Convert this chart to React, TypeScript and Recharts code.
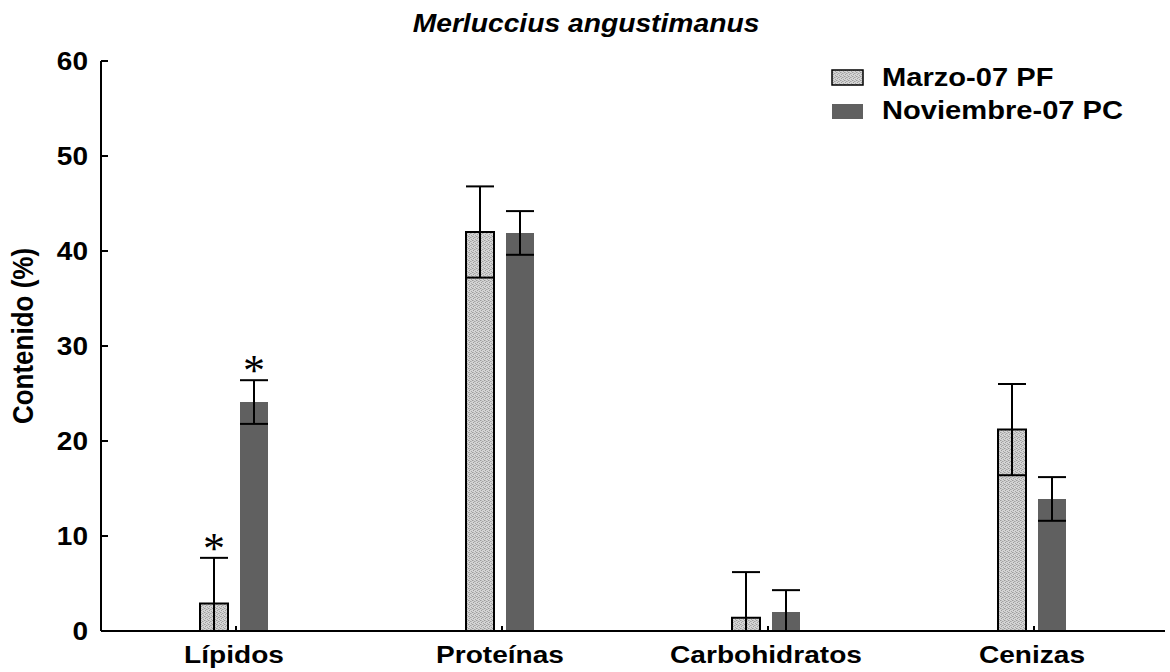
import { BarChart, Bar, XAxis, YAxis, ErrorBar, LabelList } from 'recharts';

// Chart values
const categories = ['Lípidos', 'Proteínas', 'Carbohidratos', 'Cenizas'];
const marzoValues = [2.9, 42.0, 1.4, 21.2];
const noviembreValues = [24.1, 41.9, 2.0, 13.9];
const marzoSd = [4.8, 4.8, 4.8, 4.8];
const noviembreSd = [2.3, 2.3, 2.3, 2.3];
const marzoSignif = [true, false, false, false];
const noviembreSignif = [true, false, false, false];
const yTicks = [0, 10, 20, 30, 40, 50, 60];
const seriesNames = ['Marzo-07 PF', 'Noviembre-07 PC'];

// lower whisker stops at the axis
const data = categories.map((name, i) => ({
  name,
  marzo: marzoValues[i],
  noviembre: noviembreValues[i],
  marzoErr: [Math.min(marzoSd[i], marzoValues[i]), marzoSd[i]],
  novErr: [Math.min(noviembreSd[i], noviembreValues[i]), noviembreSd[i]],
}));

const FONT = '"Liberation Sans", Arial, sans-serif';
const STRETCH = 1.12;
const NOV_FILL = '#606060';

function YTick({ x, y, payload }: any) {
  const axisX = x + 13;
  return (
    <g>
      {payload.value !== 0 && (
        <line x1={axisX} x2={axisX + 7} y1={y} y2={y} stroke="#000" strokeWidth={2} />
      )}
      <g transform={`translate(${x},${y}) scale(${STRETCH},1)`}>
        <text x={0} y={9} textAnchor="end" fontFamily={FONT} fontWeight="bold" fontSize={25} fill="#000">
          {payload.value}
        </text>
      </g>
    </g>
  );
}

function XTick({ x, y, payload }: any) {
  return (
    <g>
      <line x1={x + 2} x2={x + 2} y1={y} y2={y - 5} stroke="#000" strokeWidth={2} />
      <g transform={`translate(${x},${y + 32}) scale(${STRETCH + 0.05},1)`}>
        <text x={0} y={0} textAnchor="middle" fontFamily={FONT} fontWeight="bold" fontSize={24} fill="#000">
          {payload.value}
        </text>
      </g>
    </g>
  );
}

function makeStar(sd: number[], signif: boolean[]) {
  return (props: any) => {
    const { x, y, width, height, value, index } = props;
    if (!signif[index] || !value) return null;
    const capY = y - (sd[index] * height) / value;
    return (
      <text
        x={x + width / 2}
        y={capY + 5}
        textAnchor="middle"
        fontFamily='"Liberation Serif", "Times New Roman", serif'
        fontSize={44}
        fill="#000"
      >
        *
      </text>
    );
  };
}

export default function App() {
  return (
    <div style={{ position: 'absolute', left: 0, top: 0, width: 1170, height: 672, background: '#fff' }}>
      <BarChart
        width={1170}
        height={672}
        data={data}
        margin={{ top: 61, right: 5, bottom: 0, left: 0 }}
        barSize={28}
        barGap={12}
      >
        <XAxis
          dataKey="name"
          height={41}
          interval={0}
          axisLine={{ stroke: '#000', strokeWidth: 2 }}
          tickLine={false}
          tickSize={0}
          tickMargin={0}
          tick={<XTick />}
        />
        <YAxis
          width={101}
          domain={[0, 60]}
          ticks={yTicks}
          interval={0}
          axisLine={{ stroke: '#000', strokeWidth: 2 }}
          tickLine={false}
          tickSize={0}
          tickMargin={13}
          tick={<YTick />}
        />
        <Bar dataKey="marzo" name={seriesNames[0]} fill="url(#stippleFill)" stroke="#000" strokeWidth={2} isAnimationActive={false}>
          <ErrorBar dataKey="marzoErr" direction="y" width={14} stroke="#000" strokeWidth={2} isAnimationActive={false} />
          <LabelList dataKey="marzo" content={makeStar(marzoSd, marzoSignif)} />
        </Bar>
        <Bar dataKey="noviembre" name={seriesNames[1]} fill={NOV_FILL} isAnimationActive={false}>
          <ErrorBar dataKey="novErr" direction="y" width={14} stroke="#000" strokeWidth={2} isAnimationActive={false} />
          <LabelList dataKey="noviembre" content={makeStar(noviembreSd, noviembreSignif)} />
        </Bar>
      </BarChart>

      {/* title, axis label and legend */}
      <svg
        width={1170}
        height={672}
        style={{ position: 'absolute', left: 0, top: 0, pointerEvents: 'none' }}
      >
        <defs>
          <pattern id="stippleFill" width={4} height={4} patternUnits="userSpaceOnUse">
            <rect width={4} height={4} fill="#d4d4d4" />
            <rect x={0} y={0} width={1} height={1} fill="#9c9c9c" />
            <rect x={2} y={1} width={1} height={1} fill="#a4a4a4" />
            <rect x={1} y={2} width={1} height={1} fill="#9c9c9c" />
            <rect x={3} y={3} width={1} height={1} fill="#a4a4a4" />
            <rect x={3} y={1} width={1} height={1} fill="#b8b8b8" />
            <rect x={1} y={0} width={1} height={1} fill="#b8b8b8" />
          </pattern>
        </defs>
        <g transform={`translate(586,32) scale(${STRETCH + 0.01},1)`}>
          <text textAnchor="middle" fontFamily={FONT} fontWeight="bold" fontStyle="italic" fontSize={25} fill="#000">
            Merluccius angustimanus
          </text>
        </g>
        <g transform={`translate(33,336) rotate(-90) scale(1,${STRETCH})`}>
          <text textAnchor="middle" fontFamily={FONT} fontWeight="bold" fontSize={26} fill="#000">
            Contenido (%)
          </text>
        </g>
        <rect x={832} y={70} width={31} height={15} fill="url(#stippleFill)" stroke="#000" strokeWidth={1.5} />
        <rect x={832} y={104} width={31} height={15} fill={NOV_FILL} />
        <g transform={`translate(882,86) scale(${STRETCH},1)`}>
          <text fontFamily={FONT} fontWeight="bold" fontSize={26} fill="#000">{seriesNames[0]}</text>
        </g>
        <g transform={`translate(882,119) scale(${STRETCH},1)`}>
          <text fontFamily={FONT} fontWeight="bold" fontSize={26} fill="#000">{seriesNames[1]}</text>
        </g>
      </svg>
    </div>
  );
}
